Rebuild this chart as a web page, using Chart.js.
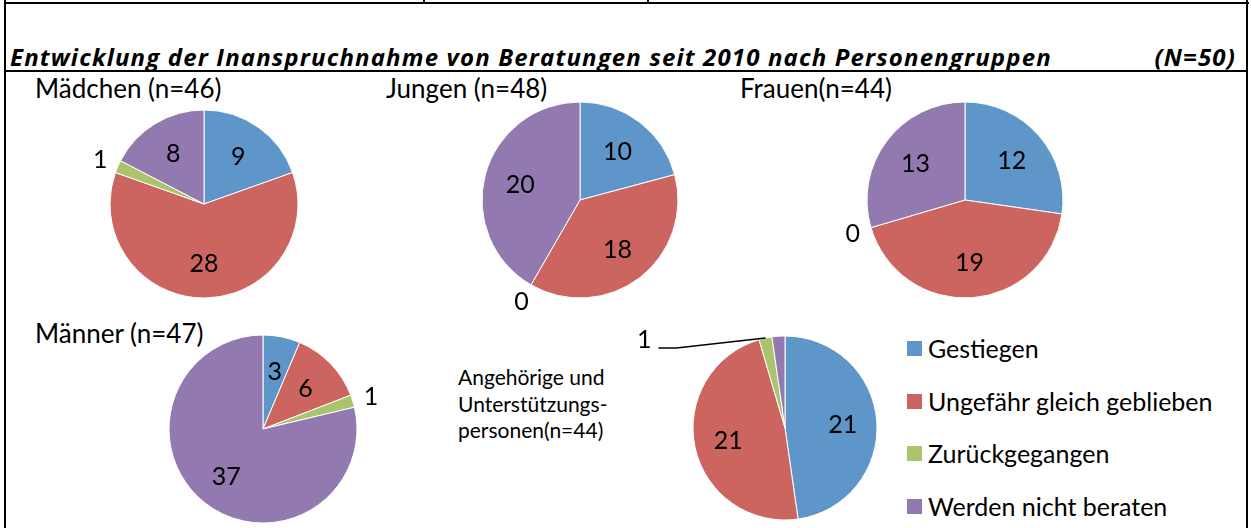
<!DOCTYPE html>
<html lang="de">
<head>
  <meta charset="UTF-8">
  <title>Entwicklung der Inanspruchnahme von Beratungen</title>
  <script src="https://cdn.jsdelivr.net/npm/chart.js@4.4.1/dist/chart.umd.min.js"></script>
  <style>
    body {
      margin: 0;
      width: 1251px;
      height: 528px;
      position: relative;
      overflow: hidden;
      background: #fff;
      font-family: 'Lato', sans-serif;
      color: #000;
    }

    .line {
      position: absolute;
      background: #000;
    }

    .title, .n-total {
      position: absolute;
      top: 44px;
      font-family: 'Open Sans', sans-serif;
      font-size: 24px;
      line-height: 25px;
      font-weight: bold;
      font-style: italic;
      letter-spacing: 1.15px;
      white-space: nowrap;
    }

    .title {
      left: 10px;
    }

    .n-total {
      right: 15px;
    }

    .group {
      position: absolute;
      font-size: 26px;
      line-height: 26px;
      white-space: nowrap;
    }

    .group.small {
      font-size: 21px;
      line-height: 26.5px;
    }

    canvas {
      position: absolute;
    }

    .legend {
      position: absolute;
      left: 907px;
      top: 336px;
    }

    .legend-item {
      position: relative;
      height: 52.5px;
      font-size: 25px;
      line-height: 24px;
      white-space: nowrap;
    }

    .legend-item span {
      display: inline-block;
      width: 15px;
      height: 15px;
      margin-right: 6px;
      vertical-align: 2px;
    }
  </style>
</head>
<body>

  <div class="line" style="left:4px; top:2px; width:1245px; height:2px"></div>
  <div class="line" style="left:423px; top:0; width:2px; height:3px"></div>
  <div class="line" style="left:647px; top:0; width:2px; height:3px"></div>
  <div class="line" style="left:4px; top:0; width:2px; height:528px"></div>
  <div class="line" style="left:1246px; top:0; width:2px; height:528px"></div>
  <div class="line" style="left:4px; top:70px; width:1244px; height:2px"></div>

  <div class="title">Entwicklung der Inanspruchnahme von Beratungen seit 2010 nach Personengruppen</div>
  <div class="n-total">(N=50)</div>

  <div class="group" style="left:35px; top:75px">Mädchen (n=46)</div>
  <div class="group" style="left:386px; top:75px">Jungen (n=48)</div>
  <div class="group" style="left:740px; top:75px">Frauen(n=44)</div>
  <div class="group" style="left:35px; top:320px">Männer (n=47)</div>
  <div class="group small" style="left:458px; top:364px">Angehörige und<br>Unterstützungs-<br>personen(n=44)</div>

  <div class="legend" id="legend"></div>

  <script>
    const categories = ['Gestiegen', 'Ungefähr gleich geblieben', 'Zurückgegangen', 'Werden nicht beraten'];
    const colors = ['#5e96c9', '#cc655f', '#a9c46c', '#927ab1'];

    const maedchen = [9, 28, 1, 8];
    const jungen = [10, 18, 0, 20];
    const frauen = [12, 19, 0, 13];
    const maenner = [3, 6, 1, 37];
    const angehoerige = [21, 21, 1, 1];

    const pies = [
      { data: maedchen, cx: 204, cy: 204, r: 94 },
      { data: jungen, cx: 580, cy: 200, r: 98 },
      { data: frauen, cx: 965, cy: 200, r: 98 },
      { data: maenner, cx: 263, cy: 429, r: 94 },
      { data: angehoerige, cx: 785, cy: 428, r: 92, hidden: [3], leader: { index: 2, dx: -89, dy: 10, tail: 18 } }
    ];

    // draws the numbers on / next to the slices
    const valueLabels = {
      id: 'valueLabels',
      afterDatasetsDraw(chart, args, opts) {
        const ctx = chart.ctx;
        const values = chart.data.datasets[0].data;
        const total = values.reduce((a, b) => a + b, 0);
        const arcs = chart.getDatasetMeta(0).data;
        ctx.save();
        ctx.font = '25px Lato';
        ctx.fillStyle = '#000';
        arcs.forEach((arc, i) => {
          if (opts.hidden && opts.hidden.includes(i)) return;
          const mid = (arc.startAngle + arc.endAngle) / 2;
          const r = arc.outerRadius;
          const lead = opts.leader;
          if (lead && lead.index === i) {
            const ex = arc.x + Math.cos(mid) * r;
            const ey = arc.y + Math.sin(mid) * r;
            const bx = ex + lead.dx;
            const by = ey + lead.dy;
            ctx.strokeStyle = '#000';
            ctx.lineWidth = 1.5;
            ctx.beginPath();
            ctx.moveTo(ex, ey);
            ctx.lineTo(bx, by);
            ctx.lineTo(bx - lead.tail, by);
            ctx.stroke();
            ctx.textAlign = 'right';
            ctx.textBaseline = 'alphabetic';
            ctx.fillText(values[i], bx - lead.tail - 7, by);
            return;
          }
          const inside = values[i] / total >= 0.04;
          const d = inside ? r * 0.63 : r + 19;
          ctx.textAlign = 'center';
          ctx.textBaseline = 'middle';
          ctx.fillText(values[i], arc.x + Math.cos(mid) * d, arc.y + Math.sin(mid) * d + 1);
        });
        ctx.restore();
      }
    };

    pies.forEach(p => {
      const size = 2 * (p.r + 70);
      const canvas = document.createElement('canvas');
      canvas.width = size;
      canvas.height = size;
      canvas.style.left = (p.cx - size / 2) + 'px';
      canvas.style.top = (p.cy - size / 2) + 'px';
      document.body.appendChild(canvas);

      new Chart(canvas.getContext('2d'), {
        type: 'pie',
        data: {
          labels: categories,
          datasets: [{
            data: p.data,
            backgroundColor: colors,
            borderColor: '#ffffff',
            borderWidth: 1
          }]
        },
        options: {
          responsive: false,
          animation: false,
          radius: p.r,
          layout: { padding: 0 },
          plugins: {
            legend: { display: false },
            tooltip: { enabled: false },
            valueLabels: { hidden: p.hidden, leader: p.leader }
          }
        },
        plugins: [valueLabels]
      });
    });

    const legend = document.getElementById('legend');
    categories.forEach((name, i) => {
      const item = document.createElement('div');
      item.className = 'legend-item';
      item.innerHTML = `<span style="background:${colors[i]}"></span>${name}`;
      legend.appendChild(item);
    });
  </script>

</body>
</html>
